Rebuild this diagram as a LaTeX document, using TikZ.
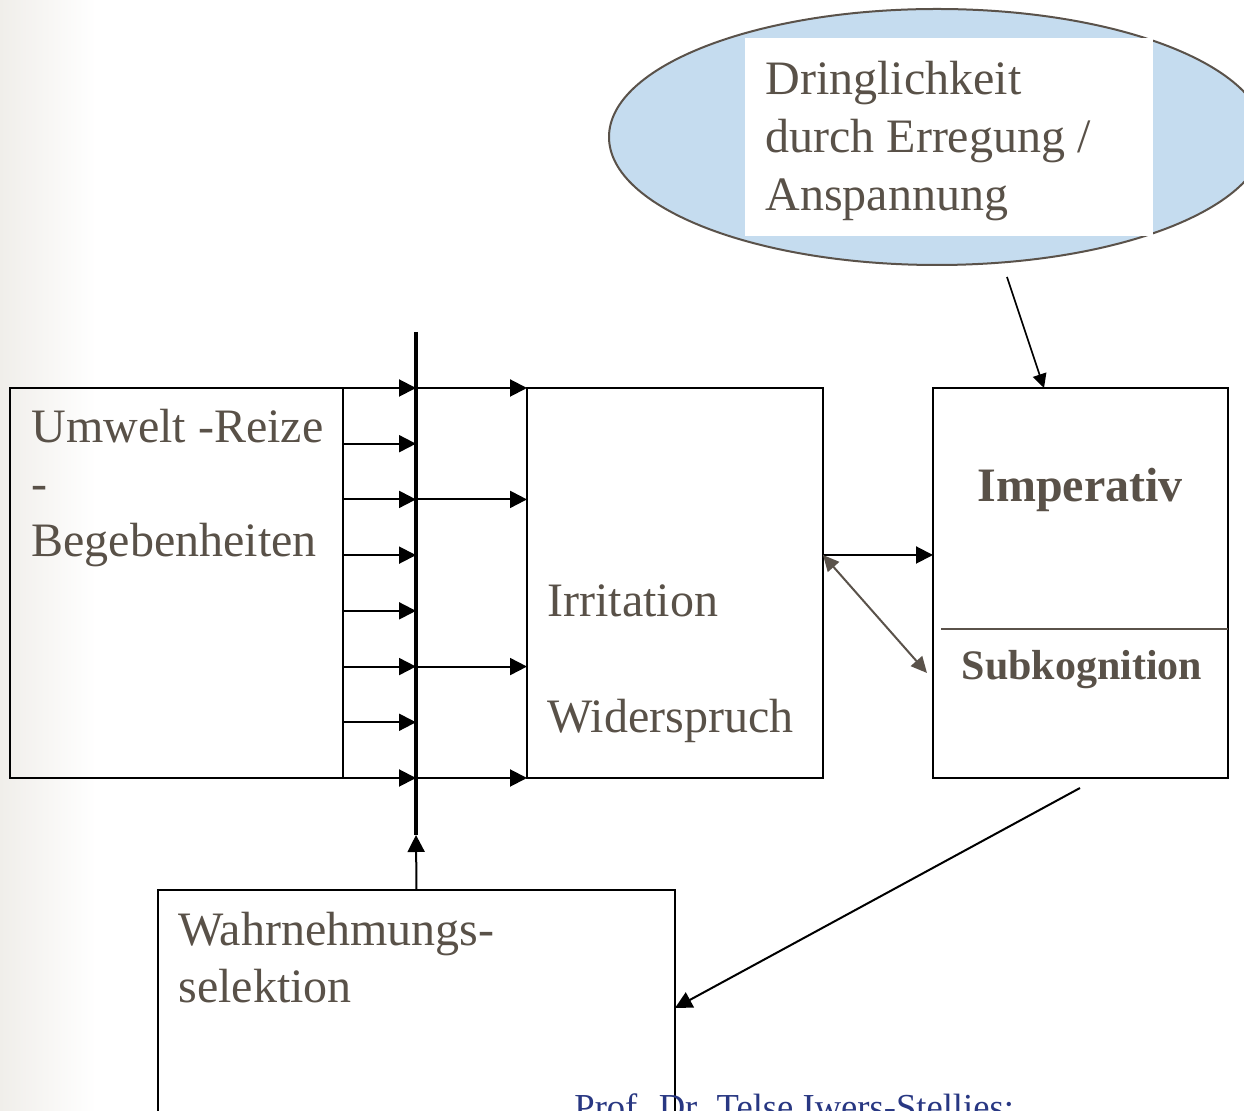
\documentclass[tikz,border=0pt]{standalone}
\usepackage{fontspec}
\setmainfont{Liberation Serif}
\usetikzlibrary{arrows.meta,shapes.geometric}
\definecolor{txt}{RGB}{89,81,72}
\definecolor{ellfill}{RGB}{197,220,239}
\definecolor{ellline}{RGB}{90,82,74}
\definecolor{navy}{RGB}{40,55,130}
\definecolor{bggray}{RGB}{240,238,234}
\begin{document}
\begin{tikzpicture}[x=0.5pt,y=-0.5pt]
\tikzset{
 box/.style={draw=black, line width=1pt, inner sep=0pt, outer sep=0pt},
 lbl/.style={anchor=base west, inner sep=0pt, text=txt, font=\fontsize{24}{28}\selectfont},
 arr/.style={line width=1pt, -{Triangle[length=8.5pt,width=8.5pt]}},
 thinarr/.style={line width=0.8pt, -{Triangle[length=7pt,width=7pt]}},
 garr/.style={draw=ellline, line width=1pt, {Triangle[length=8pt,width=7.5pt]}-{Triangle[length=8pt,width=7.5pt]}},
}
\useasboundingbox (0,0) rectangle (1244,1111);
\clip (0,0) rectangle (1244,1111);
\fill[white] (0,0) rectangle (1244,1111);
\shade[left color=bggray, right color=white] (0,0) rectangle (96,1111);

% boxes
\node[box, minimum width=166.5pt, minimum height=195pt] (umwelt) at (176.5,583) {};
\node[box, minimum width=148pt, minimum height=195pt] (irr) at (675,583) {};
\node[box, minimum width=147.5pt, minimum height=195pt] (imp) at (1080.5,583) {};
\node[box, minimum width=258.5pt, minimum height=155pt] (wahr) at (416.5,1045) {};

% ellipse with white text field
\node[ellipse, draw=ellline, fill=ellfill, line width=1pt, minimum width=328pt, minimum height=128pt, inner sep=0pt] (ell) at (937,137) {};
\node[fill=white, minimum width=204pt, minimum height=99pt, inner sep=0pt] (wrect) at (949,137) {};

% vertical bar
\coordinate (bartop) at (416,332);
\coordinate (barbot) at (416,835);
\draw[line width=1.7pt] (bartop) -- (barbot);

% arrow rows
\foreach \k in {0,...,7} {
  \coordinate (r\k) at (0,{388+\k*390/7});
  \draw[arr] (umwelt.east |- r\k) -- (bartop |- r\k);
}
\foreach \k in {0,2,5,7} {
  \draw[arr] (bartop |- r\k) -- (irr.west |- r\k);
}

% connections
\coordinate (y555) at (0,555);
\draw[arr] (irr.east |- y555) -- (imp.west |- y555);
\coordinate (sk) at (927,673);
\draw[garr] (irr.east |- y555) -- (sk);
\coordinate (sepL) at (941,629);
\draw[draw=ellline, line width=0.8pt] (sepL) -- (imp.east |- sepL);
\coordinate (e1) at (1007,277);
\coordinate (e2x) at (1044,0);
\draw[thinarr] (e1) -- (imp.north -| e2x);
\coordinate (f1) at (1080,788);
\coordinate (f2y) at (0,1008);
\draw[arr] (f1) -- (wahr.east |- f2y);
\draw[arr] (wahr.north) -- (barbot);

% texts
\node[lbl] (u1) at (31,443) {Umwelt -Reize};
\node[lbl] (u2) at (31,500) {-};
\node[lbl] (u3) at (31,557) {Begebenheiten};
\node[lbl] (i1) at (547,617) {Irritation};
\node[lbl] (i2) at (547,733) {Widerspruch};
\node[lbl, anchor=base, font=\fontsize{24}{28}\selectfont\bfseries] (imptxt) at (1080,502) {Imperativ};
\node[lbl, anchor=base, font=\fontsize{21}{25}\selectfont\bfseries] (subtxt) at (1082,680) {Subkognition};
\node[lbl] (d1) at (765,95) {Dringlichkeit};
\node[lbl] (d2) at (765,153) {durch Erregung /};
\node[lbl] (d3) at (765,211) {Anspannung};
\node[lbl] (w1) at (178,946) {Wahrnehmungs-};
\node[lbl] (w2) at (178,1003) {selektion};
\node[anchor=base west, inner sep=0pt, text=navy, font=\fontsize{18.3}{22}\selectfont] (foot) at (574,1120) {Prof. Dr. Telse Iwers-Stellies:};
\end{tikzpicture}
\end{document}
